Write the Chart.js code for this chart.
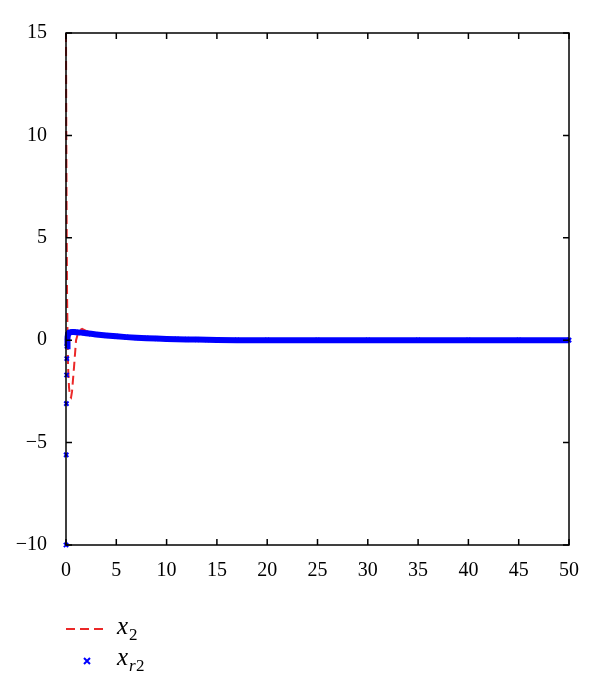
<!DOCTYPE html>
<html>
<head>
<meta charset="utf-8">
<script src="https://cdn.jsdelivr.net/npm/chart.js@4/dist/chart.umd.min.js"></script>
<style>
  html, body { margin: 0; padding: 0; background: #fff; }
  #wrap { width: 600px; height: 694px; position: relative; }
</style>
</head>
<body>
<div id="wrap"><canvas id="chart"></canvas></div>
<script>
// x2 (red dashed)
const tRed = [0, 0.03, 0.06, 0.1, 0.15, 0.2, 0.3, 0.4, 0.5, 0.6, 0.8, 1.0, 1.2, 1.4, 1.6, 1.8, 2, 2.5, 3, 4, 5, 6, 8, 10, 12, 15, 20, 30, 40, 50];
const x2 = [15, 10, 6, 2.5, 0.3, -1.2, -2.3, -2.75, -2.8, -2.5, -1.3, 0, 0.35, 0.5, 0.55, 0.5, 0.45, 0.38, 0.32, 0.25, 0.2, 0.15, 0.09, 0.05, 0.03, 0.01, 0, 0, 0, 0];

// xr2 (blue markers)
const tBlue = [0, 0.02, 0.04, 0.06, 0.08, 0.1, 0.15, 0.2, 0.3, 0.4, 0.6, 0.8, 1, 1.5, 2, 2.5, 3, 4, 5, 6, 7, 8, 9, 10, 11, 12, 13, 14, 15, 17, 20, 25, 30, 35, 40, 45, 50];
const xr2 = [-10, -5.6, -3.1, -1.7, -0.9, -0.3, 0.1, 0.3, 0.36, 0.38, 0.4, 0.4, 0.39, 0.37, 0.34, 0.31, 0.28, 0.23, 0.19, 0.15, 0.12, 0.1, 0.08, 0.06, 0.05, 0.04, 0.03, 0.02, 0.01, 0, 0, 0, 0, 0, 0, 0, 0];

const xTicks = [0, 5, 10, 15, 20, 25, 30, 35, 40, 45, 50];
const yTicks = [-10, -5, 0, 5, 10, 15];

const serif = '"Liberation Serif", "DejaVu Serif", serif';
const red = 'rgb(235,40,40)';

const frame = {
  id: 'frame',
  afterDraw(chart) {
    const { ctx, chartArea: a, scales } = chart;
    ctx.save();
    ctx.strokeStyle = '#000';
    ctx.lineWidth = 1.5;
    ctx.strokeRect(a.left, a.top, a.right - a.left, a.bottom - a.top);
    ctx.beginPath();
    xTicks.forEach(v => {
      const px = scales.x.getPixelForValue(v);
      ctx.moveTo(px, a.bottom); ctx.lineTo(px, a.bottom - 6);
      ctx.moveTo(px, a.top); ctx.lineTo(px, a.top + 6);
    });
    yTicks.forEach(v => {
      const py = scales.y.getPixelForValue(v);
      ctx.moveTo(a.left, py); ctx.lineTo(a.left + 6, py);
      ctx.moveTo(a.right, py); ctx.lineTo(a.right - 6, py);
    });
    ctx.stroke();

    // legend
    ctx.strokeStyle = red;
    ctx.lineWidth = 2;
    ctx.setLineDash([9, 5]);
    ctx.beginPath();
    ctx.moveTo(66, 629); ctx.lineTo(107, 629);
    ctx.stroke();
    ctx.setLineDash([]);

    ctx.strokeStyle = '#0000ff';
    ctx.lineWidth = 2;
    ctx.beginPath();
    ctx.moveTo(84, 658); ctx.lineTo(90, 664);
    ctx.moveTo(90, 658); ctx.lineTo(84, 664);
    ctx.stroke();

    ctx.fillStyle = '#000';
    ctx.textBaseline = 'alphabetic';
    ctx.font = 'italic 25px ' + serif;
    ctx.fillText('x', 117, 634);
    ctx.font = '17px ' + serif;
    ctx.fillText('2', 129, 640);
    ctx.font = 'italic 25px ' + serif;
    ctx.fillText('x', 117, 665);
    ctx.font = 'italic 17px ' + serif;
    ctx.fillText('r', 129, 671);
    ctx.font = '17px ' + serif;
    ctx.fillText('2', 136, 671);
    ctx.restore();
  }
};

new Chart(document.getElementById('chart'), {
  type: 'scatter',
  data: {
    datasets: [
      {
        label: 'xr2',
        data: tBlue.map((t, i) => ({ x: t, y: xr2[i] })),
        showLine: true,
        borderColor: '#0000ff',
        backgroundColor: '#0000ff',
        borderWidth: 6,
        segment: {
          borderColor: c => c.p0.parsed.x < 0.1 ? 'rgba(0,0,0,0)' : undefined
        },
        pointStyle: 'crossRot',
        pointRadius: 3,
        pointBorderWidth: 2,
        order: 0
      },
      {
        label: 'x2',
        data: tRed.map((t, i) => ({ x: t, y: x2[i] })),
        showLine: true,
        borderColor: red,
        borderWidth: 2,
        borderDash: [9, 5],
        pointRadius: 0,
        order: 1
      }
    ]
  },
  options: {
    responsive: true,
    maintainAspectRatio: false,
    animation: false,
    clip: false,
    layout: { padding: { top: 33, right: 31, left: 0, bottom: 0 } },
    plugins: { legend: { display: false }, tooltip: { enabled: false } },
    scales: {
      x: {
        type: 'linear', min: 0, max: 50,
        afterFit: s => { s.height = 149; },
        afterBuildTicks: s => { s.ticks = xTicks.map(v => ({ value: v })); },
        grid: { display: false }, border: { display: false },
        ticks: { color: '#000', padding: 6, maxRotation: 0, font: { family: serif, size: 20 } }
      },
      y: {
        type: 'linear', min: -10, max: 15,
        afterFit: s => { s.width = 66; },
        afterBuildTicks: s => { s.ticks = yTicks.map(v => ({ value: v })); },
        grid: { display: false }, border: { display: false },
        ticks: {
          color: '#000', padding: 11, font: { family: serif, size: 20 },
          callback: v => v < 0 ? '\u2212' + Math.abs(v) : String(v)
        }
      }
    }
  },
  plugins: [frame]
});
</script>
</body>
</html>
